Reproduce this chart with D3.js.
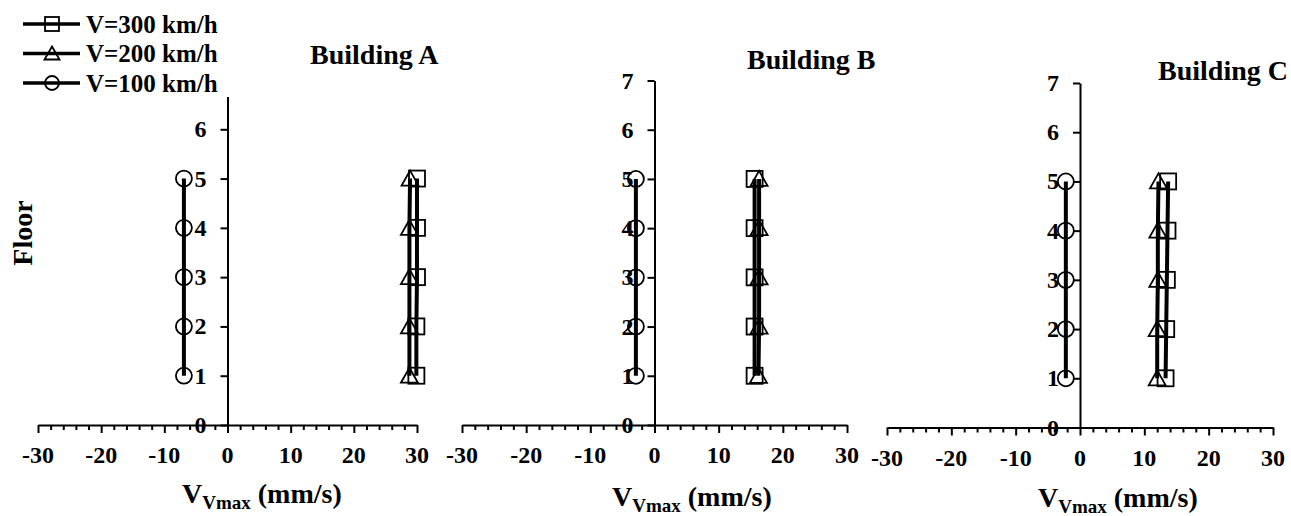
<!DOCTYPE html>
<html>
<head>
<meta charset="utf-8">
<script src="https://cdn.jsdelivr.net/npm/d3@7"></script>
<style>
  body { margin: 0; background: #fff; }
</style>
</head>
<body>
<div id="chart"></div>
<script>
(function () {

    var floors = [1, 2, 3, 4, 5];
    var xTicks = [-30, -20, -10, 0, 10, 20, 30];
    var yTicks = [0, 1, 2, 3, 4, 5, 6, 7];
    var seriesNames = ['V=300 km/h', 'V=200 km/h', 'V=100 km/h'];
    var titles = ['Building A', 'Building B', 'Building C'];

    // peak vertical velocity per floor (mm/s)
    var v300A = [29.9, 29.9, 30.0, 30.0, 30.0];
    var v200A = [28.8, 28.8, 28.8, 28.8, 28.9];
    var v100A = [-6.9, -6.9, -6.9, -6.9, -6.9];
    var v300B = [15.6, 15.6, 15.6, 15.6, 15.6];
    var v200B = [16.2, 16.3, 16.3, 16.3, 16.3];
    var v100B = [-2.9, -2.9, -2.9, -2.9, -2.9];
    var v300C = [13.3, 13.4, 13.5, 13.6, 13.7];
    var v200C = [12.0, 12.0, 12.1, 12.1, 12.2];
    var v100C = [-2.2, -2.2, -2.2, -2.2, -2.2];

    var w = 1291;
    var h = 516;
    var font = '"Liberation Serif", "DejaVu Serif", serif';

    // pixel layout of the three panels
    var panels = [
        { x0: 38, x1: 417, y0: 425, y7: 80, title: [310, 64], label: [182, 503], data: [v300A, v200A, v100A] },
        { x0: 462, x1: 847, y0: 425, y7: 80.5, title: [747, 69], label: [612, 506], data: [v300B, v200B, v100B] },
        { x0: 887, x1: 1273, y0: 427.5, y7: 83, title: [1158, 80], label: [1038, 507], data: [v300C, v200C, v100C] }
    ];

    var svg = d3.select('#chart')
        .append('svg')
            .attr('width', w)
            .attr('height', h)
            .attr('font-family', font)
            .attr('font-weight', 'bold');

    var markers = ['square', 'triangle', 'circle'];

    function drawMarker(g, type, size) {
        var s = size / 2;
        if (type === 'square') {
            g.append('rect')
                .attr('x', -s).attr('y', -s)
                .attr('width', size).attr('height', size);
        } else if (type === 'triangle') {
            g.append('path')
                .attr('d', 'M0,' + (-s) + 'L' + (s + 0.5) + ',' + (s - 1) + 'L' + (-s - 0.5) + ',' + (s - 1) + 'Z');
        } else {
            g.append('circle').attr('r', s);
        }
        g.selectAll('*')
            .attr('fill', 'none')
            .attr('stroke', '#000')
            .attr('stroke-width', 1.8);
    }

    panels.forEach(function (p, pi) {
        var x = d3.scaleLinear().domain([-30, 30]).range([p.x0, p.x1]);
        var y = d3.scaleLinear().domain([0, 7]).range([p.y0, p.y7]);
        var g = svg.append('g');

        // x axis with minor ticks every 2
        var xAxis = g.append('g')
            .attr('transform', 'translate(0,' + p.y0 + ')')
            .call(d3.axisBottom(x).tickValues(d3.range(-30, 31, 2)).tickSize(5).tickFormat('').tickSizeOuter(0));
        xAxis.selectAll('.tick')
            .filter(function (d) { return d % 10 === 0; })
            .select('line').attr('y2', 8);
        xAxis.select('.domain').attr('stroke-width', 2);
        xAxis.selectAll('.tick line').attr('stroke-width', 2);

        g.selectAll('.xlab')
            .data(xTicks)
            .enter()
            .append('text')
            .attr('class', 'xlab')
            .attr('x', function (d) { return x(d); })
            .attr('y', p.y0 + 38)
            .attr('text-anchor', 'middle')
            .attr('font-family', font)
            .style('font-size', '24px')
            .text(function (d) { return d; });

        // y axis at x = 0
        var yAxis = g.append('g')
            .attr('transform', 'translate(' + x(0) + ',0)')
            .call(d3.axisLeft(y).tickValues(yTicks).tickSize(7).tickFormat('').tickSizeOuter(0));
        yAxis.select('.domain').attr('stroke-width', 2);
        yAxis.selectAll('.tick line').attr('stroke-width', 2);

        // panel A's top label sits under the legend box, so it is left out
        g.selectAll('.ylab')
            .data(yTicks.filter(function (d) { return pi > 0 || d < 7; }))
            .enter()
            .append('text')
            .attr('class', 'ylab')
            .attr('x', x(0) - 21)
            .attr('y', function (d) { return y(d); })
            .attr('text-anchor', 'end')
            .attr('dominant-baseline', 'central')
            .attr('font-family', font)
            .style('font-size', '24px')
            .text(function (d) { return d; });

        // series
        var line = d3.line()
            .x(function (d) { return x(d); })
            .y(function (d, i) { return y(floors[i]); });

        p.data.forEach(function (vals, si) {
            g.append('path')
                .datum(vals)
                .attr('d', line)
                .attr('fill', 'none')
                .attr('stroke', '#000')
                .attr('stroke-width', 4);
            vals.forEach(function (v, i) {
                var m = g.append('g').attr('transform', 'translate(' + x(v) + ',' + y(floors[i]) + ')');
                drawMarker(m, markers[si], 16);
            });
        });

        g.append('text')
            .attr('x', p.title[0])
            .attr('y', p.title[1])
            .attr('font-family', font)
            .style('font-size', '28px')
            .text(titles[pi]);

        var lab = g.append('text')
            .attr('x', p.label[0])
            .attr('y', p.label[1])
            .attr('font-family', font)
            .style('font-size', '28px');
        lab.append('tspan').text('V');
        lab.append('tspan').attr('dy', 6).style('font-size', '19px').text('Vmax');
        lab.append('tspan').attr('dy', -6).text(' (mm/s)');
    });

    svg.append('text')
        .attr('transform', 'translate(22,233) rotate(-90)')
        .attr('text-anchor', 'middle')
        .attr('dominant-baseline', 'central')
        .attr('font-family', font)
        .style('font-size', '28px')
        .text('Floor');

    // legend, its white box hides the top of panel A's axis
    var legend = svg.append('g');
    legend.append('rect')
        .attr('x', 0).attr('y', 0)
        .attr('width', 255).attr('height', 97)
        .attr('fill', '#fff');

    seriesNames.forEach(function (name, i) {
        var ly = 24 + i * 29.5;
        legend.append('line')
            .attr('x1', 23).attr('x2', 80)
            .attr('y1', ly).attr('y2', ly)
            .attr('stroke', '#000')
            .attr('stroke-width', 3.5);
        var m = legend.append('g').attr('transform', 'translate(52,' + ly + ')');
        drawMarker(m, markers[i], 14);
        legend.append('text')
            .attr('x', 86)
            .attr('y', ly)
            .attr('dominant-baseline', 'central')
            .attr('font-family', font)
            .style('font-size', '25px')
            .text(name);
    });

})();
</script>
</body>
</html>
